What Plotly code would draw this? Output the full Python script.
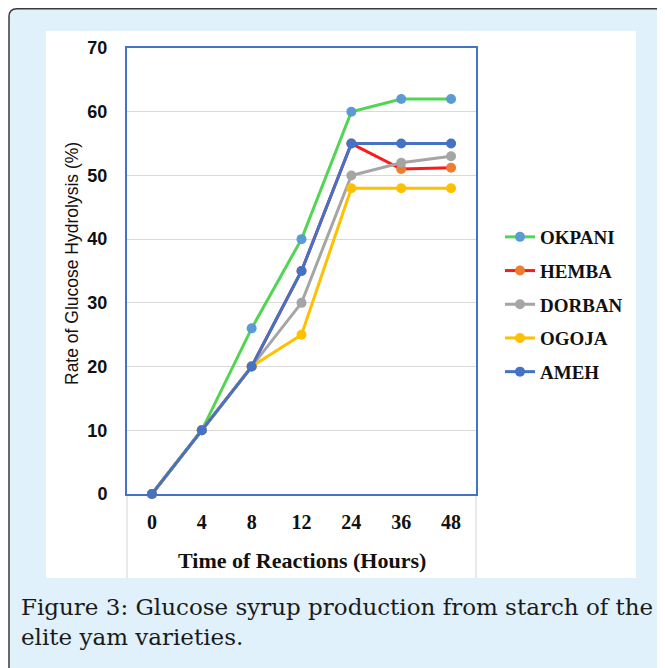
import plotly.graph_objects as go

# ---- data ----
hours = ["0", "4", "8", "12", "24", "36", "48"]
okpani = [0, 10, 26, 40, 60, 62, 62]
hemba = [0, 10, 20, 35, 55, 51, 51.2]
dorban = [0, 10, 20, 30, 50, 52, 53]
ogoja = [0, 10, 20, 25, 48, 48, 48]
ameh = [0, 10, 20, 35, 55, 55, 55]
y_ticks = [0, 10, 20, 30, 40, 50, 60, 70]

series = [
    ("OKPANI", okpani, "#52D552", "#5B9BD5"),
    ("HEMBA", hemba, "#FF1A1A", "#ED7D31"),
    ("DORBAN", dorban, "#A5A5A5", "#A5A5A5"),
    ("OGOJA", ogoja, "#FFC000", "#FFC000"),
    ("AMEH", ameh, "#4472C4", "#4472C4"),
]

OFF = 8  # browser body margin
W, H = 665 - OFF, 668 - OFF
# plot area in window pixels
WPL, WPR, WPT, WPB = 127, 476, 48, 494
PL, PR, PT, PB = WPL - OFF, WPR - OFF, WPT - OFF, WPB - OFF


def px(x):
    """window pixel x -> paper x"""
    return (x - OFF - PL) / (PR - PL)


def py(y):
    """window pixel y -> paper y"""
    return (PB - (y - OFF)) / (PB - PT)


fig = go.Figure()
for i, (name, vals, lc, mc) in enumerate(series):
    fig.add_trace(go.Scatter(
        x=hours, y=vals, name=name, mode="lines+markers",
        line=dict(color=lc, width=3),
        marker=dict(color=mc, size=10),
        legendgroup=f"g{i}", cliponaxis=False,
    ))

shapes = []
# outer rounded box
x0, y0, x1, y1, r = 9, 8.75, 690, 700, 8
path = (f"M {px(x0+r)},{py(y0)} L {px(x1)},{py(y0)} L {px(x1)},{py(y1)} "
        f"L {px(x0)},{py(y1)} L {px(x0)},{py(y0+r)} "
        f"Q {px(x0)},{py(y0)} {px(x0+r)},{py(y0)} Z")
shapes.append(dict(type="path", xref="paper", yref="paper", path=path,
                   line=dict(color="#3A3A3A", width=1.5), fillcolor="#E0F1FB",
                   layer="below"))
# white chart panel
shapes.append(dict(type="rect", xref="paper", yref="paper",
                   x0=px(46), x1=px(636), y0=py(578), y1=py(31),
                   line=dict(width=0), fillcolor="white", layer="below"))
# faint vertical lines below plot area
for xx in (WPL, WPR):
    shapes.append(dict(type="line", xref="paper", yref="paper",
                       x0=px(xx), x1=px(xx), y0=py(WPB), y1=py(578),
                       line=dict(color="#E2E2E2", width=1.5), layer="below"))

annotations = [
    dict(text="Rate of Glucose Hydrolysis (%)", xref="paper", yref="paper",
         x=px(72), y=py(264), textangle=-90, showarrow=False,
         font=dict(family="Liberation Sans", size=17.5, color="#111111"),
         xanchor="center", yanchor="middle"),
    dict(text="Time of Reactions (Hours)", xref="paper", yref="paper",
         x=px(301.5), y=py(560), showarrow=False,
         font=dict(family="Liberation Serif", size=22, color="#111111",
                   weight="bold"),
         xanchor="center", yanchor="middle"),
    dict(text="Figure 3: Glucose syrup production from starch of the<br>elite yam varieties.",
         xref="paper", yref="paper", x=px(19), y=py(592), showarrow=False,
         align="left", xanchor="left", yanchor="top",
         font=dict(family="DejaVu Serif", size=23, color="#1A1A1A")),
]

fig.update_layout(
    width=W, height=H,
    margin=dict(l=PL, r=W - PR, t=PT, b=H - PB, pad=0),
    paper_bgcolor="white",
    plot_bgcolor="white",
    showlegend=True,
    legend=dict(x=px(500), y=py(218), xanchor="left", yanchor="top",
                font=dict(family="Liberation Serif", size=19, color="#111111",
                          weight="bold"),
                bgcolor="rgba(0,0,0,0)", tracegroupgap=6,
                traceorder="grouped", itemwidth=30),
    shapes=shapes,
    annotations=annotations,
)
fig.update_xaxes(
    type="category", categoryorder="array", categoryarray=hours,
    range=[-0.5, 6.5], showgrid=False, zeroline=False,
    showline=True, mirror=True, linecolor="#4472C4", linewidth=2,
    ticks="outside", ticklen=9, tickcolor="rgba(0,0,0,0)",
    tickfont=dict(family="Liberation Serif", size=20, color="#111111",
                  weight="bold"),
)
fig.update_yaxes(
    range=[0, 70], tickvals=y_ticks, showgrid=True, gridcolor="#D9D9D9",
    gridwidth=1, zeroline=False,
    showline=True, mirror=True, linecolor="#4472C4", linewidth=2,
    ticks="outside", ticklen=14, tickcolor="rgba(0,0,0,0)",
    tickfont=dict(family="Liberation Sans", size=18, color="#111111",
                  weight="bold"),
)

fig.write_html("out.html")
